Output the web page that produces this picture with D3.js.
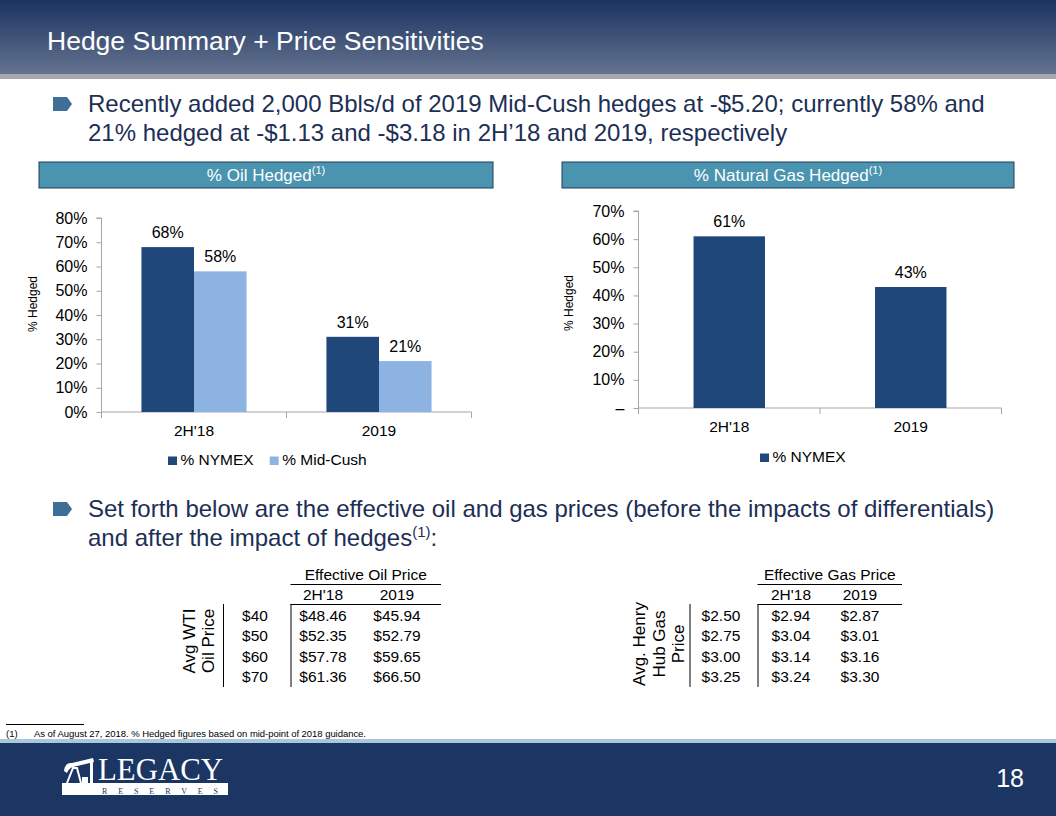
<!DOCTYPE html>
<html><head><meta charset="utf-8">
<script src="https://cdn.jsdelivr.net/npm/d3@7"></script>
<style>
html,body{margin:0;padding:0;background:#fff;}
svg{display:block;font-family:"Liberation Sans",Arial,sans-serif;}
</style></head>
<body>
<svg id="s" width="1056" height="816"></svg>
<script>
// ---- data ----
const categories = ["2H'18", "2019"];
const oilNymex = [0.68, 0.31];
const oilMidCush = [0.58, 0.21];
const gasNymex = [0.61, 0.43];
const oilTicks = [0, 0.1, 0.2, 0.3, 0.4, 0.5, 0.6, 0.7, 0.8];
const gasTicks = [0, 0.1, 0.2, 0.3, 0.4, 0.5, 0.6, 0.7];
const oilSeriesNames = ["% NYMEX", "% Mid-Cush"];
const gasSeriesNames = ["% NYMEX"];
const tableCols = ["2H'18", "2019"];
const wtiPrices = ["$40", "$50", "$60", "$70"];
const oilEff2H18 = ["$48.46", "$52.35", "$57.78", "$61.36"];
const oilEff2019 = ["$45.94", "$52.79", "$59.65", "$66.50"];
const hhPrices = ["$2.50", "$2.75", "$3.00", "$3.25"];
const gasEff2H18 = ["$2.94", "$3.04", "$3.14", "$3.24"];
const gasEff2019 = ["$2.87", "$3.01", "$3.16", "$3.30"];

const C_NYMEX = "#1f477a", C_MID = "#8db3e2", NAVY = "#1c3664", TXT = "#1d2f55";
const svg = d3.select("#s");
const defs = svg.append("defs");
const g1 = defs.append("linearGradient").attr("id","hdr").attr("x1",0).attr("y1",0).attr("x2",0).attr("y2",1);
g1.append("stop").attr("offset","0%").attr("stop-color","#1b3361");
g1.append("stop").attr("offset","100%").attr("stop-color","#64738f");

// header
svg.append("rect").attr("x",0).attr("y",0).attr("width",1056).attr("height",74).attr("fill","url(#hdr)");
svg.append("rect").attr("x",0).attr("y",74).attr("width",1056).attr("height",5).attr("fill","#a7a9ad");
svg.append("text").attr("x",47).attr("y",50).attr("fill","#fff").attr("font-size",26.5).text("Hedge Summary + Price Sensitivities");

// bullets
function bullet(x,y){
  svg.append("path").attr("d",`M${x},${y} h14 l5,7 l-5,7 h-14 z`).attr("fill","#3f6f97");
}
const BF = 24;
bullet(53,97);
svg.append("text").attr("x",88).attr("y",112).attr("fill",TXT).attr("font-size",BF)
  .text("Recently added 2,000 Bbls/d of 2019 Mid-Cush hedges at -$5.20; currently 58% and");
svg.append("text").attr("x",88).attr("y",141).attr("fill",TXT).attr("font-size",BF)
  .text("21% hedged at -$1.13 and -$3.18 in 2H\u201918 and 2019, respectively");
bullet(53,502);
svg.append("text").attr("x",88).attr("y",517).attr("fill",TXT).attr("font-size",BF)
  .text("Set forth below are the effective oil and gas prices (before the impacts of differentials)");
const t2 = svg.append("text").attr("x",88).attr("y",546).attr("fill",TXT).attr("font-size",BF);
t2.append("tspan").text("and after the impact of hedges");
t2.append("tspan").attr("font-size",15).attr("dy",-9).text("(1)");
t2.append("tspan").attr("dy",9).text(":");

// section header boxes
function secBox(x,w,label){
  svg.append("rect").attr("x",x).attr("y",162).attr("width",w).attr("height",26).attr("fill","#4a94af").attr("stroke","#1f3a5c").attr("stroke-width",1);
  const t = svg.append("text").attr("x",x+w/2).attr("y",181).attr("text-anchor","middle").attr("fill","#fff").attr("font-size",17);
  t.append("tspan").text(label);
  t.append("tspan").attr("font-size",11).attr("dy",-7).text("(1)");
}
secBox(39,454,"% Oil Hedged");
secBox(562,452,"% Natural Gas Hedged");

// chart builder
function barChart(opt){
  const g = svg.append("g");
  const y = d3.scaleLinear().domain([0,opt.max]).range([opt.y0,opt.y1]);
  const x = d3.scaleBand().domain(categories).range([opt.x0,opt.x1]);
  const xs = d3.scaleBand().domain(opt.series.map((d,i)=>i)).range([0,x.bandwidth()]).paddingInner(0).paddingOuter(opt.pad);
  // y axis
  const ya = d3.axisLeft(y).tickValues(opt.ticks).tickSize(5).tickPadding(9)
    .tickFormat(d=> (d===0 && opt.dashZero) ? "\u2013" : d3.format(".0%")(d));
  const yg = g.append("g").attr("transform",`translate(${opt.x0},0)`).call(ya);
  yg.select(".domain").attr("stroke","#a6a6a6").attr("d",`M-5,${opt.y1}H0V${opt.y0}`);
  yg.selectAll(".tick line").attr("stroke","#a6a6a6");
  yg.selectAll(".tick text").attr("font-size",16).attr("fill","#000").attr("font-family","Liberation Sans, Arial");
  // x axis
  const xg = g.append("g").attr("transform",`translate(0,${opt.y0})`).call(d3.axisBottom(x).tickValues([]).tickSizeOuter(0));
  xg.select(".domain").attr("stroke","#a6a6a6").attr("d",`M${opt.x0},6V0H${opt.x1}V6`);
  xg.append("line").attr("x1",(opt.x0+opt.x1)/2).attr("x2",(opt.x0+opt.x1)/2).attr("y1",0).attr("y2",6).attr("stroke","#a6a6a6");
  categories.forEach(c=>{
    g.append("text").attr("x",x(c)+x.bandwidth()/2).attr("y",opt.y0+24).attr("text-anchor","middle").attr("font-size",15.5).text(c);
  });
  // bars
  opt.series.forEach((vals,si)=>{
    categories.forEach((c,ci)=>{
      const bx = x(c)+xs(si);
      g.append("rect").attr("x",bx).attr("y",y(vals[ci])).attr("width",xs.bandwidth()).attr("height",opt.y0-y(vals[ci]))
        .attr("fill",opt.colors[si]);
      g.append("text").attr("x",bx+xs.bandwidth()/2).attr("y",y(vals[ci])-9).attr("text-anchor","middle").attr("font-size",16)
        .text(d3.format(".0%")(vals[ci]));
    });
  });
  // y title
  g.append("text").attr("transform",`translate(${opt.titleX},${opt.titleY}) rotate(-90)`).attr("text-anchor","middle").attr("font-size",12).text("% Hedged");
  // legend
  let lx = opt.legX;
  opt.names.forEach((n,i)=>{
    g.append("rect").attr("x",lx).attr("y",opt.legY-8.5).attr("width",9).attr("height",8.5).attr("fill",opt.colors[i]);
    const t = g.append("text").attr("x",lx+12.5).attr("y",opt.legY).attr("font-size",15.5).text(n);
    lx += 12.5 + t.node().getComputedTextLength() + 16;
  });
}
barChart({x0:101.5,x1:471.5,y0:412,y1:218,max:0.8,ticks:oilTicks,series:[oilNymex,oilMidCush],colors:[C_NYMEX,C_MID],names:oilSeriesNames,pad:0.76,titleX:37,titleY:304,legX:168,legY:465,dashZero:false});
barChart({x0:638.5,x1:1001.5,y0:408,y1:211,max:0.7,ticks:gasTicks,series:[gasNymex],colors:[C_NYMEX],names:gasSeriesNames,pad:0.77,titleX:573,titleY:303,legX:760,legY:462,dashZero:true});

// tables
function table(opt){
  const g = svg.append("g").attr("font-size",15.5).attr("fill","#000");
  const rowY = d3.scalePoint().domain(d3.range(opt.left.length)).range([621,682]);
  g.append("text").attr("x",(opt.tx0+opt.tx1)/2).attr("y",580).attr("text-anchor","middle").text(opt.title);
  g.append("line").attr("x1",opt.tx0).attr("x2",opt.tx1).attr("y1",584.5).attr("y2",584.5).attr("stroke","#000").attr("stroke-width",1);
  tableCols.forEach((c,i)=>g.append("text").attr("x",opt.cx[i]).attr("y",600).attr("text-anchor","middle").text(c));
  g.append("line").attr("x1",opt.tx0).attr("x2",opt.tx1).attr("y1",604.5).attr("y2",604.5).attr("stroke","#000");
  g.append("line").attr("x1",opt.tx0+0.5).attr("x2",opt.tx0+0.5).attr("y1",604).attr("y2",687).attr("stroke","#000");
  g.append("line").attr("x1",opt.vx+0.5).attr("x2",opt.vx+0.5).attr("y1",604).attr("y2",687).attr("stroke","#000");
  opt.left.forEach((v,i)=>{
    g.append("text").attr("x",opt.lx).attr("y",rowY(i)).attr("text-anchor","middle").text(v);
    g.append("text").attr("x",opt.cx[0]).attr("y",rowY(i)).attr("text-anchor","middle").text(opt.c1[i]);
    g.append("text").attr("x",opt.cx[1]).attr("y",rowY(i)).attr("text-anchor","middle").text(opt.c2[i]);
  });
  opt.rot.forEach((s,i)=>{
    g.append("text").attr("transform",`translate(${opt.rotX[i]},${opt.rotY}) rotate(-90)`).attr("text-anchor","middle").attr("font-size",17).text(s);
  });
}
table({title:"Effective Oil Price",tx0:290.5,tx1:441,vx:223,cx:[323,397],lx:255,left:wtiPrices,c1:oilEff2H18,c2:oilEff2019,rot:["Avg WTI","Oil Price"],rotX:[195,214],rotY:641});
table({title:"Effective Gas Price",tx0:757.5,tx1:902,vx:689.5,cx:[791,860],lx:721,left:hhPrices,c1:gasEff2H18,c2:gasEff2019,rot:["Avg. Henry","Hub Gas","Price"],rotX:[645,665,684],rotY:644});

// footnote
svg.append("line").attr("x1",6).attr("x2",84).attr("y1",724.5).attr("y2",724.5).attr("stroke","#000");
svg.append("text").attr("x",6).attr("y",737).attr("font-size",9.5).text("(1)");
svg.append("text").attr("x",34).attr("y",737).attr("font-size",9.5).attr("textLength",332).text("As of August 27, 2018. % Hedged figures based on mid-point of 2018 guidance.");

// footer
svg.append("rect").attr("x",0).attr("y",739).attr("width",1056).attr("height",4).attr("fill","#a9c8dc");
svg.append("rect").attr("x",0).attr("y",743).attr("width",1056).attr("height",73).attr("fill",NAVY);
svg.append("text").attr("x",1024).attr("y",787).attr("text-anchor","end").attr("fill","#fff").attr("font-size",25).text("18");

// logo
const lg = svg.append("g");
lg.append("text").attr("x",98).attr("y",780).attr("fill","#fff").attr("font-family","Liberation Serif, serif").attr("font-size",31).attr("textLength",125).attr("lengthAdjust","spacingAndGlyphs").text("LEGACY");
lg.append("rect").attr("x",62).attr("y",783).attr("width",166).attr("height",12).attr("fill","#fff");
lg.append("text").attr("x",102).attr("y",793.5).attr("fill",NAVY).attr("font-family","Liberation Serif, serif").attr("font-size",8).attr("textLength",116).text("R E S E R V E S");
// pumpjack icon
lg.append("path").attr("d","M67,783 L73,768 L77,768 L81,783").attr("fill","none").attr("stroke","#fff").attr("stroke-width",2);
lg.append("path").attr("d","M64,771 Q65,762 72,763 L93,758 L94,762 L73,767 Q69,768 67,773 Z").attr("fill","#fff");
lg.append("rect").attr("x",90).attr("y",760).attr("width",3).attr("height",23).attr("fill","#fff");
lg.append("rect").attr("x",82).attr("y",777).attr("width",6).attr("height",6).attr("fill","#fff");
</script>
</body></html>
